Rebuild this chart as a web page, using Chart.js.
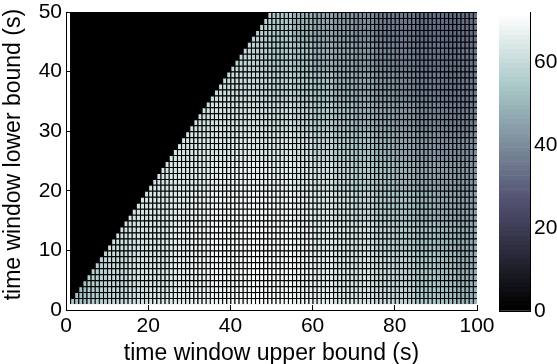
<!DOCTYPE html>
<html>
<head>
<meta charset="utf-8">
<script src="https://cdn.jsdelivr.net/npm/chart.js@4.4.1/dist/chart.umd.min.js"></script>
<style>
  html, body { margin: 0; padding: 0; background: #fff; }
  #wrap { position: relative; width: 557px; height: 364px; overflow: hidden; }
  #heat { position: absolute; left: 0; top: 0; }
  #bar { position: absolute; left: 480px; top: 0; }
</style>
</head>
<body>
<div id="wrap">
  <canvas id="heat" width="557" height="364"></canvas>
  <canvas id="bar" width="77" height="364"></canvas>
</div>
<script>
const xTicks = [0, 20, 40, 60, 80, 100];
const yTicks = [0, 10, 20, 30, 40, 50];
const cbTicks = [0, 20, 40, 60];
const cbMax = 72;
const xTitle = 'time window upper bound (s)';
const yTitle = '  time window lower bound (s)';

// values in 5 s x 5 s blocks
// one array per lower-bound band, columns = upper bound 0-5, 5-10, ... 95-100
const lower0  = [52, 56, 59, 61, 63, 65, 67, 68, 69, 70, 69, 67, 66, 64, 62, 60, 58, 55, 52, 49];
const lower5  = [null, 57, 60, 62, 64, 66, 68, 69, 70, 71, 70, 68, 66, 64, 62, 60, 57, 54, 51, 48];
const lower10 = [null, null, 61, 62, 64, 66, 68, 69, 70, 70, 69, 67, 65, 63, 61, 58, 55, 52, 49, 47];
const lower15 = [null, null, null, 62, 63, 65, 67, 68, 69, 69, 68, 66, 64, 61, 58, 55, 52, 49, 46, 44];
const lower20 = [null, null, null, null, 62, 63, 65, 66, 67, 67, 66, 64, 61, 58, 55, 52, 49, 46, 43, 42];
const lower25 = [null, null, null, null, null, 62, 63, 64, 65, 64, 63, 61, 58, 55, 52, 49, 45, 42, 40, 40];
const lower30 = [null, null, null, null, null, null, 61, 62, 62, 61, 60, 58, 55, 52, 48, 45, 42, 39, 37, 37];
const lower35 = [null, null, null, null, null, null, null, 60, 60, 59, 57, 55, 52, 48, 45, 42, 39, 36, 34, 35];
const lower40 = [null, null, null, null, null, null, null, null, 59, 57, 55, 52, 48, 45, 42, 39, 36, 34, 33, 34];
const lower45 = [null, null, null, null, null, null, null, null, null, 57, 54, 49, 46, 43, 40, 37, 35, 33, 32, 33];
const bands = [lower0, lower5, lower10, lower15, lower20, lower25, lower30, lower35, lower40, lower45];

// matlab "bone" colormap, 64 levels
const boneR = [[0, 0], [0.746032, 0.652778], [1, 1]];
const boneG = [[0, 0], [0.365079, 0.319444], [0.746032, 0.777778], [1, 1]];
const boneB = [[0, 0], [0.365079, 0.444444], [1, 1]];
function seg(pts, t) {
    for (let k = 1; k < pts.length; k++) {
        if (t <= pts[k][0]) {
            const [x0, y0] = pts[k - 1], [x1, y1] = pts[k];
            return y0 + (y1 - y0) * (t - x0) / (x1 - x0);
        }
    }
    return 1;
}
function boneLevel(k) {
    const t = k / 63;
    const c = [seg(boneR, t), seg(boneG, t), seg(boneB, t)].map(u => Math.round(u * 255));
    return `rgb(${c[0]},${c[1]},${c[2]})`;
}
function bone(v) {
    const k = Math.max(0, Math.min(63, Math.floor(v / cbMax * 64)));
    return boneLevel(k);
}

// one dataset per lower-bound row (1..50), cells for upper bound 1..100
const datasets = [];
for (let j = 1; j < 50; j++) {
    const data = [], colors = [];
    for (let i = 1; i < 100; i++) {
        const band = bands[Math.min(9, Math.floor(j / 5))];
        const v = j > i ? 0 : band[Math.min(19, Math.floor(i / 5))];
        data.push({x: i + 0.5, y: [j, j + 1]});
        colors.push(bone(v));
    }
    datasets.push({
        data: data,
        backgroundColor: colors,
        borderColor: '#000',
        borderWidth: {top: 1, left: 1, right: 0, bottom: 0},
        borderSkipped: false,
        inflateAmount: 0,
        barPercentage: 1,
        categoryPercentage: 1,
        grouped: false
    });
}

// dark edge colour behind the cells so the seams between them stay black
const cellBackdrop = {
    id: 'cellBackdrop',
    beforeDatasetsDraw(chart) {
        const {ctx, scales: {x, y}} = chart;
        const l = x.getPixelForValue(1), r = x.getPixelForValue(100);
        const t = y.getPixelForValue(50), b = y.getPixelForValue(1);
        ctx.save();
        ctx.fillStyle = '#000';
        ctx.fillRect(l, t, r - l, b - t);
        ctx.restore();
    }
};

Chart.defaults.font.family = "'Liberation Sans', Arial, Helvetica, sans-serif";
Chart.defaults.color = '#000';

new Chart(document.getElementById('heat'), {
    type: 'bar',
    data: {datasets: datasets},
    plugins: [cellBackdrop],
    options: {
        responsive: false,
        animation: false,
        events: [],
        layout: {padding: {left: 0, right: 80, top: 12, bottom: 0}},
        plugins: {legend: {display: false}, tooltip: {enabled: false}},
        scales: {
            x: {
                type: 'linear', min: 0, max: 100, offset: false,
                grid: {offset: false, drawOnChartArea: false, color: '#000', tickLength: -5},
                border: {color: '#000', width: 1},
                ticks: {padding: 9, font: {size: 21}, maxRotation: 0, autoSkip: false},
                afterBuildTicks: s => { s.ticks = xTicks.map(v => ({value: v})); },
                afterFit: s => { s.height = 54; s.paddingLeft = 0; s.paddingRight = 0; },
                title: {display: true, text: xTitle, font: {size: 23}, padding: {top: 0, bottom: -3}}
            },
            y: {
                type: 'linear', min: 0, max: 50,
                grid: {drawOnChartArea: false, color: '#000', tickLength: -5},
                border: {color: '#000', width: 1},
                ticks: {padding: 9, font: {size: 21}, autoSkip: false},
                afterBuildTicks: s => { s.ticks = yTicks.map(v => ({value: v})); },
                afterFit: s => { s.width = 66; s.paddingTop = 0; s.paddingBottom = 0; },
                title: {display: true, text: yTitle, font: {size: 23}, padding: 0}
            }
        }
    }
});

// colorbar
const cbDatasets = [];
for (let k = 0; k < 64; k++) {
    cbDatasets.push({
        data: [[k * cbMax / 64, (k + 1) * cbMax / 64]],
        backgroundColor: boneLevel(k),
        borderWidth: 0,
        barPercentage: 1,
        categoryPercentage: 1,
        grouped: false
    });
}

new Chart(document.getElementById('bar'), {
    type: 'bar',
    data: {labels: [''], datasets: cbDatasets},
    options: {
        responsive: false,
        animation: false,
        events: [],
        layout: {padding: {left: 19, right: 0, top: 12, bottom: 0}},
        plugins: {legend: {display: false}, tooltip: {enabled: false}},
        scales: {
            x: {
                grid: {display: false},
                border: {color: '#000', width: 1},
                ticks: {display: false},
                afterFit: s => { s.height = 53; }
            },
            xt: {
                type: 'linear', position: 'top',
                grid: {display: false},
                border: {color: '#000', width: 1},
                ticks: {display: false},
                afterFit: s => { s.height = 0; }
            },
            y: {
                type: 'linear', position: 'right', min: 0, max: cbMax,
                grid: {drawOnChartArea: false, color: '#000', tickLength: -4},
                border: {color: '#000', width: 1},
                ticks: {padding: 8, font: {size: 21}},
                afterBuildTicks: s => { s.ticks = cbTicks.map(v => ({value: v})); },
                afterFit: s => { s.width = 27; s.paddingTop = 0; s.paddingBottom = 0; }
            },
            yl: {
                type: 'linear', position: 'left',
                grid: {display: false},
                border: {color: '#000', width: 1},
                ticks: {display: false},
                afterFit: s => { s.width = 0; }
            }
        }
    }
});
</script>
</body>
</html>
